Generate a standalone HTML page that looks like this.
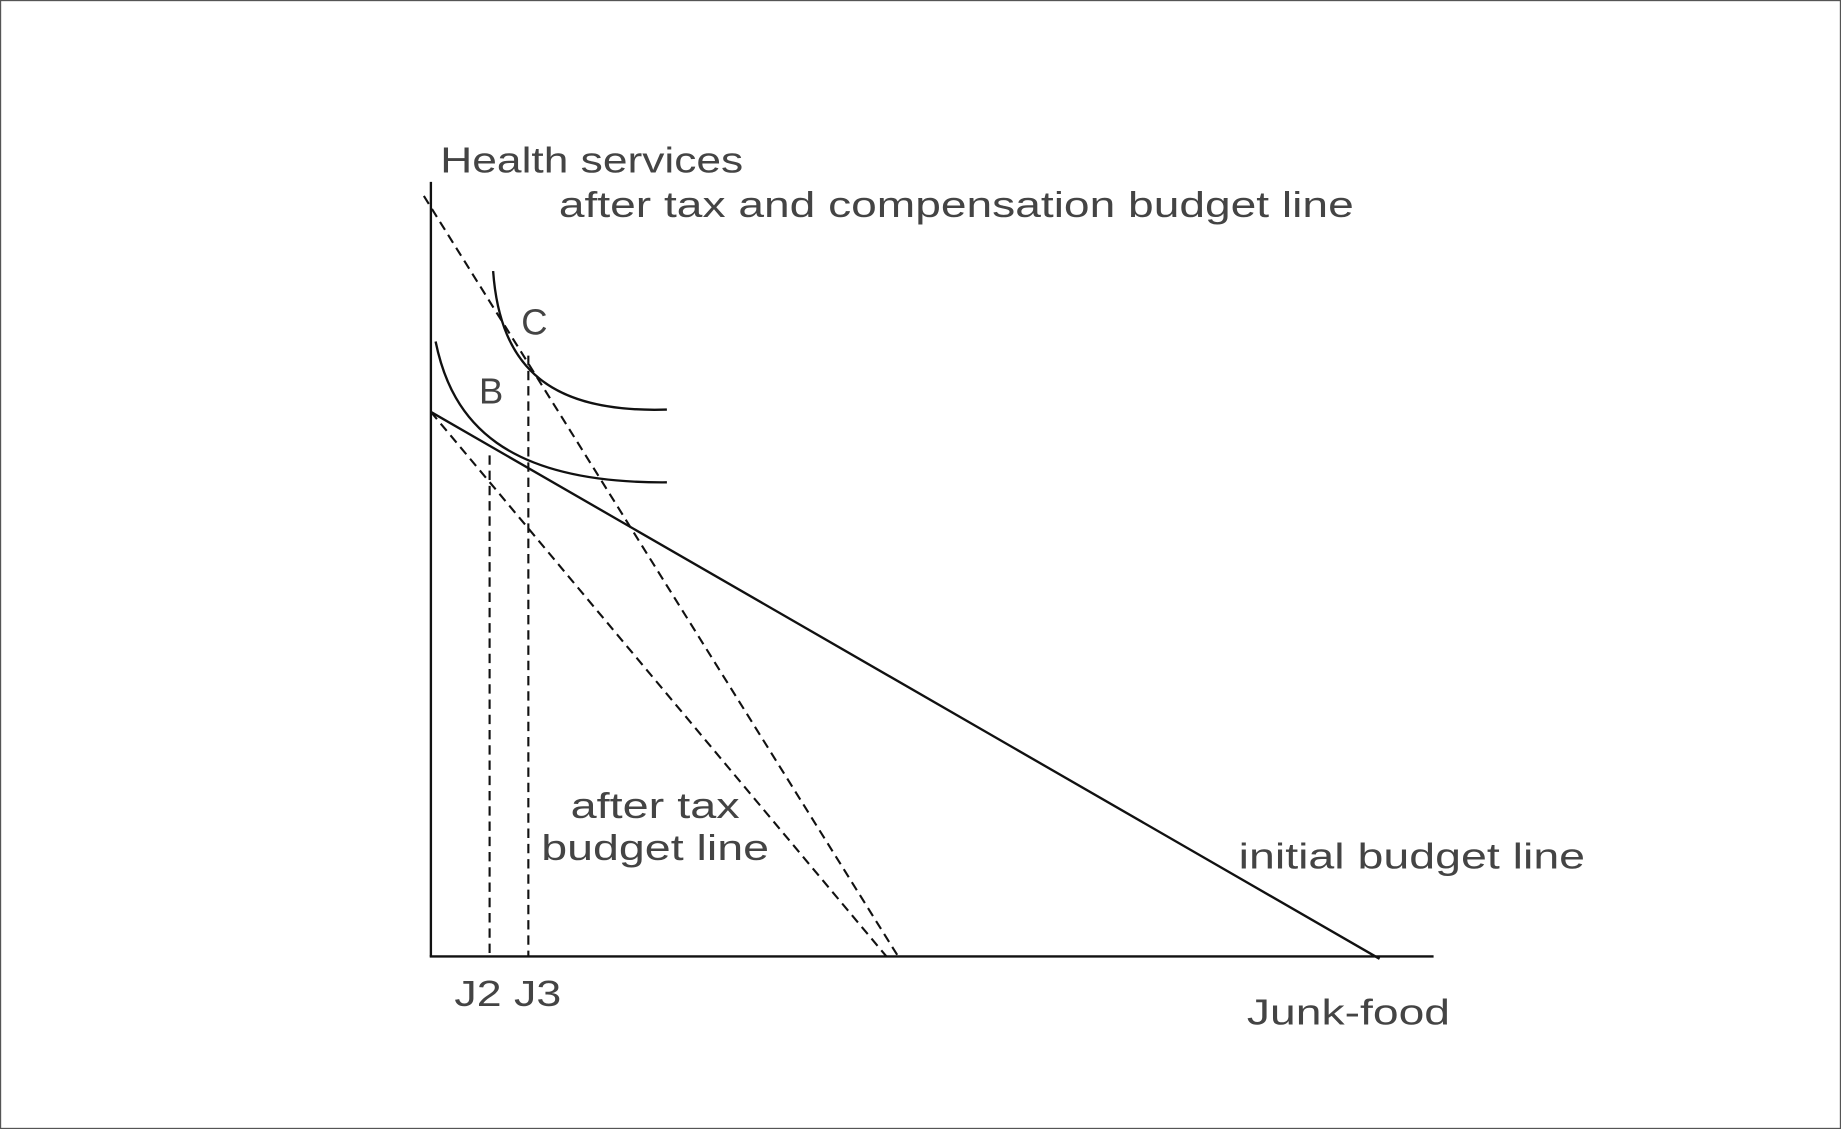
<!DOCTYPE html>
<html><head><style>html,body{margin:0;padding:0;background:#fff}svg{display:block}</style></head>
<body>
<svg width="1841" height="1129" viewBox="0 0 1568 962" preserveAspectRatio="none" xmlns="http://www.w3.org/2000/svg">
<rect x="0.5" y="0.5" width="1567" height="961" fill="#fff" stroke="#555" stroke-width="1"/>
<g stroke="#111" stroke-width="2" fill="none">
<line x1="367" y1="155" x2="367" y2="815"/>
<line x1="366" y1="815" x2="1221" y2="815"/>
<line x1="367" y1="351" x2="1175" y2="817"/>
<g stroke-dasharray="8,5" stroke-width="1.8">
<line x1="367" y1="351" x2="755" y2="815"/>
<line x1="361" y1="167" x2="765" y2="815"/>
<line x1="417" y1="388" x2="417" y2="815"/>
<line x1="450" y1="303" x2="450" y2="815"/>
</g>
<path d="M371,291 C385,360 430,412 568,411"/>
<path d="M420,231 C426,315 470,352 568,349"/>
</g>
<g font-family="'Liberation Sans',sans-serif" font-size="31" fill="#444" lengthAdjust="spacingAndGlyphs">
<text x="375" y="147" textLength="258" lengthAdjust="spacingAndGlyphs">Health services</text>
<text x="476" y="185" textLength="677" lengthAdjust="spacingAndGlyphs">after tax and compensation budget line</text>
<text x="444" y="285">C</text>
<text x="408" y="344">B</text>
<text x="486" y="697" textLength="144" lengthAdjust="spacingAndGlyphs">after tax</text>
<text x="461" y="733" textLength="194" lengthAdjust="spacingAndGlyphs">budget line</text>
<text x="1055" y="740" textLength="295" lengthAdjust="spacingAndGlyphs">initial budget line</text>
<text x="387" y="857" textLength="91" lengthAdjust="spacingAndGlyphs">J2 J3</text>
<text x="1062" y="873" textLength="173" lengthAdjust="spacingAndGlyphs">Junk-food</text>
</g>
</svg>
</body></html>
